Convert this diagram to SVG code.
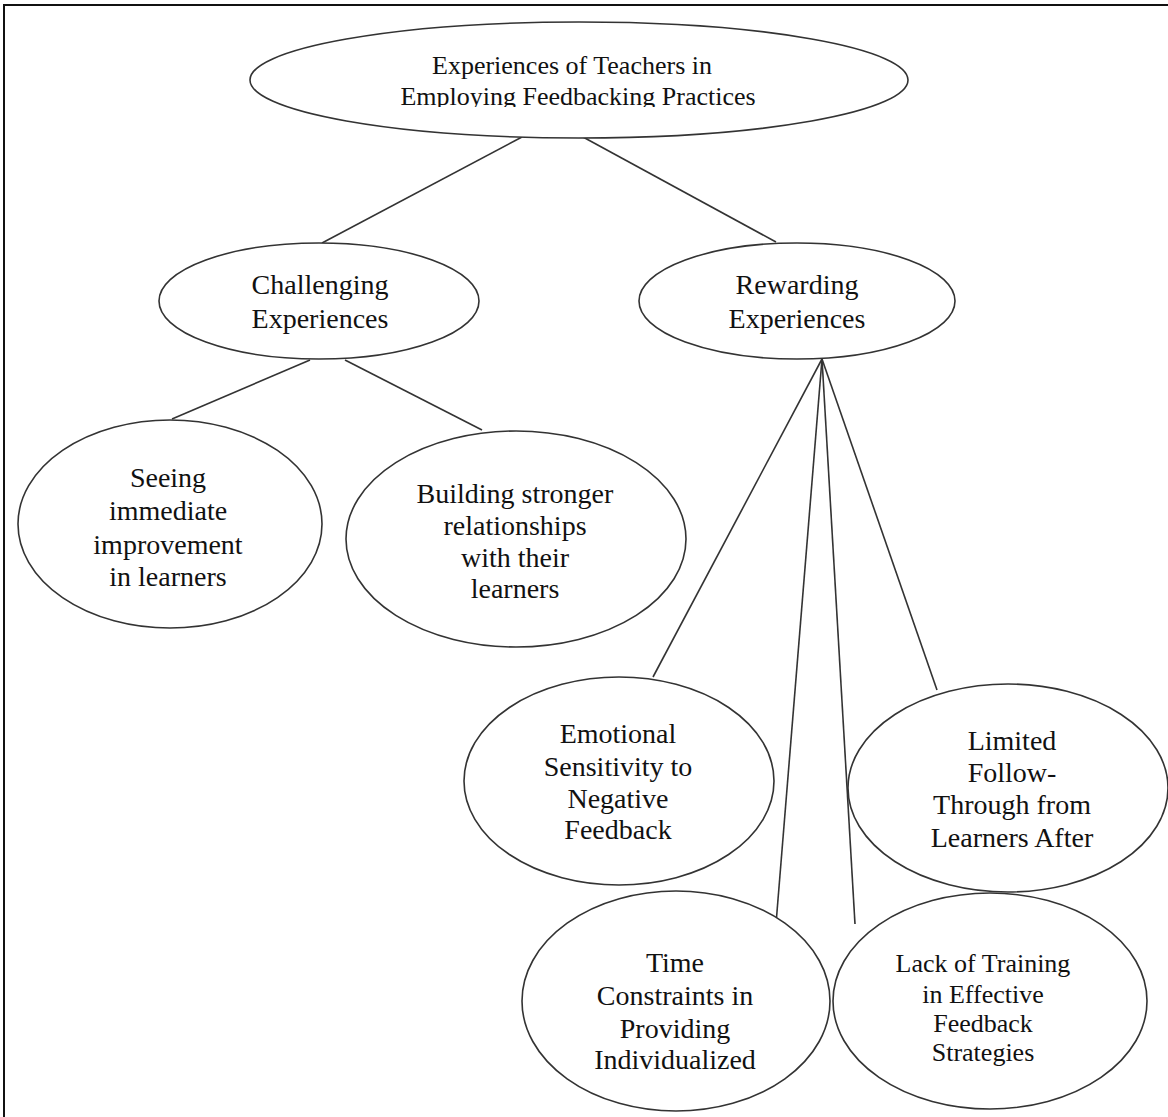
<svg xmlns="http://www.w3.org/2000/svg" width="1168" height="1117" viewBox="0 0 1168 1117">
<style>
.n{fill:#fff;stroke:#333;stroke-width:1.6}
.c line{stroke:#333;stroke-width:1.6}
text{font-family:"Liberation Serif","Times New Roman","DejaVu Serif",serif;fill:#111;text-anchor:middle}
.t{font-size:26px}
.m{font-size:28px}
.s{font-size:26px}
</style>
<defs>
<clipPath id="clipTitle"><rect x="0" y="0" width="1168" height="107"/></clipPath>
</defs>
<rect x="0" y="0" width="1168" height="1117" fill="#fff"/>
<path d="M4 1117 V5 H1168" fill="none" stroke="#111" stroke-width="2"/>
<g class="c" id="connectors">
<line x1="522" y1="137" x2="322" y2="243"/>
<line x1="583" y1="137" x2="776" y2="242"/>
<line x1="310" y1="360" x2="172" y2="419"/>
<line x1="345" y1="360" x2="482" y2="430"/>
<line x1="822" y1="359" x2="653" y2="677"/>
<line x1="822" y1="359" x2="776" y2="924"/>
<line x1="822" y1="359" x2="855" y2="924"/>
<line x1="822" y1="359" x2="937" y2="690"/>
</g>
<g id="root">
<ellipse class="n" cx="579" cy="80" rx="329" ry="58"/>
<g clip-path="url(#clipTitle)">
<text class="t" x="572" y="74">Experiences of Teachers in</text>
<text class="t" x="578" y="105">Employing Feedbacking Practices</text>
</g>
</g>
<g id="challenging">
<ellipse class="n" cx="319" cy="301" rx="160" ry="58"/>
<text class="m" x="320" y="294">Challenging</text>
<text class="m" x="320" y="328">Experiences</text>
</g>
<g id="rewarding">
<ellipse class="n" cx="797" cy="301" rx="158" ry="58"/>
<text class="m" x="797" y="294">Rewarding</text>
<text class="m" x="797" y="328">Experiences</text>
</g>
<g id="seeing">
<ellipse class="n" cx="170" cy="524" rx="152" ry="104"/>
<text class="m" x="168" y="487">Seeing</text>
<text class="m" x="168" y="520">immediate</text>
<text class="m" x="168" y="554">improvement</text>
<text class="m" x="168" y="586">in learners</text>
</g>
<g id="building">
<ellipse class="n" cx="516" cy="539" rx="170" ry="108"/>
<text class="m" x="515" y="503">Building stronger</text>
<text class="m" x="515" y="535">relationships</text>
<text class="m" x="515" y="567">with their</text>
<text class="m" x="515" y="598">learners</text>
</g>
<g id="emotional">
<ellipse class="n" cx="619" cy="781" rx="155" ry="104"/>
<text class="m" x="618" y="743">Emotional</text>
<text class="m" x="618" y="776">Sensitivity to</text>
<text class="m" x="618" y="808">Negative</text>
<text class="m" x="618" y="839">Feedback</text>
</g>
<g id="limited">
<ellipse class="n" cx="1008" cy="788" rx="160" ry="104"/>
<text class="m" x="1012" y="750">Limited</text>
<text class="m" x="1012" y="782">Follow-</text>
<text class="m" x="1012" y="814">Through from</text>
<text class="m" x="1012" y="847">Learners After</text>
</g>
<g id="time">
<ellipse class="n" cx="676" cy="1001" rx="154" ry="110"/>
<text class="m" x="675" y="972">Time</text>
<text class="m" x="675" y="1005">Constraints in</text>
<text class="m" x="675" y="1038">Providing</text>
<text class="m" x="675" y="1069">Individualized</text>
</g>
<g id="lack">
<ellipse class="n" cx="990" cy="1001" rx="157" ry="108"/>
<text class="s" x="983" y="972">Lack of Training</text>
<text class="s" x="983" y="1003">in Effective</text>
<text class="s" x="983" y="1032">Feedback</text>
<text class="s" x="983" y="1061">Strategies</text>
</g>
</svg>
